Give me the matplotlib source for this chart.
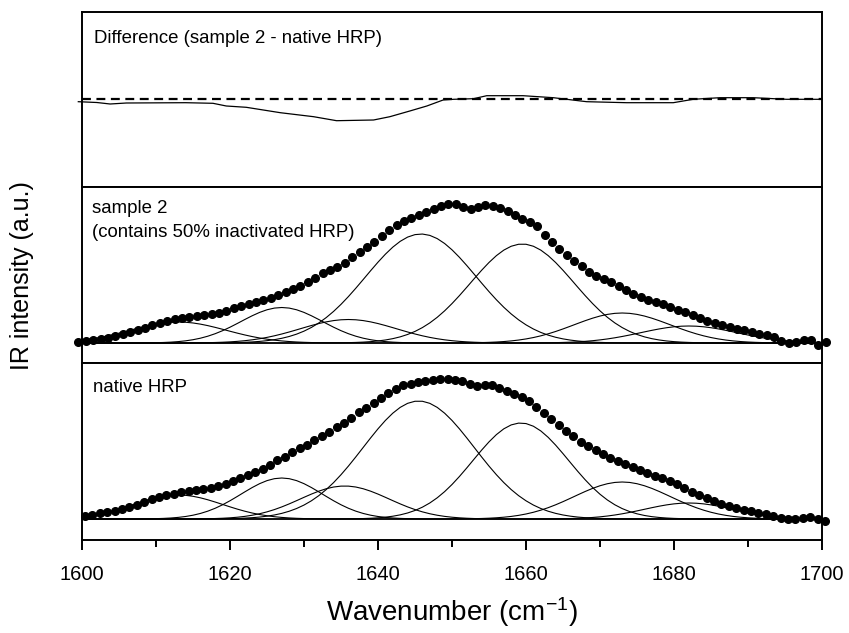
import numpy as np
import matplotlib.pyplot as plt
from matplotlib.ticker import MultipleLocator

plt.rcParams['font.family'] = ['Liberation Sans', 'DejaVu Sans']
plt.rcParams['mathtext.fontset'] = 'custom'
plt.rcParams['mathtext.rm'] = 'Liberation Sans'
plt.rcParams['mathtext.default'] = 'regular'

# measured spectra (a.u.), one point per wavenumber
wn_s2 = np.arange(1599.5, 1701.0, 1.0)
int_s2 = [1.5, 2.5, 3.5, 4.5, 5.5, 7, 9, 11, 13, 15.5,
          18, 20, 22, 24, 25, 26, 27, 28, 29, 30.5,
          32.5, 35, 37, 39, 41, 43, 45.5, 48, 51, 54,
          57.5, 61, 65, 70, 73, 76, 80, 86, 91, 96,
          101, 107, 113, 118, 122, 125, 128.5, 131.5, 134.5, 137.5,
          139.5, 139, 136.5, 134, 136, 138, 137.5, 135.5, 132, 128.5,
          124.5, 121, 117, 108, 101, 94, 88, 82.5, 77, 71.5,
          67.5, 64, 61, 57, 53, 49.5, 46, 43.5, 41.5, 39,
          36, 33.5, 31, 28, 25, 22.5, 20.5, 18.5, 16.5, 14.5,
          13, 11.5, 9.5, 8, 6, 2.5, 0.3, 1.5, 3, 3.5,
          -2, 1.3]

wn_nat = np.arange(1600.4, 1701.0, 1.0)
int_nat = [3.3, 4.5, 6, 7, 8.5, 10, 12, 14.5, 17, 20,
           22, 24, 25.5, 27, 28, 29, 30, 31, 33, 35,
           38, 41, 44, 47, 50, 54.5, 59, 62.5, 67, 71,
           74.5, 79, 83, 87.5, 92, 96.5, 101.5, 107, 111.5, 116,
           121, 126, 130.5, 134, 135.5, 137, 138.5, 139.5, 140.5, 140.5,
           139.5, 138.5, 135, 133.5, 134.5, 134, 131.5, 128.5, 125.5, 122.5,
           118, 112.5, 106, 100, 94, 88.5, 83, 77.5, 73, 69,
           65.5, 61.5, 58.5, 55.5, 52.5, 49.5, 46.5, 43.5, 41, 38,
           35, 31, 27.5, 24, 21, 18, 15.5, 13, 11.5, 9.5,
           8, 6.5, 5, 3.5, 1.5, 0, 0.5, 1.2, 1.6, 0.5,
           -1.7]

# fitted gaussian bands: centre (cm-1), height (a.u.), sigma (cm-1)
s2_center = [1613, 1627, 1636, 1645.8, 1659.5, 1673, 1682]
s2_height = [21, 35.5, 23.5, 109, 99, 30, 17]
s2_sigma = [6.5, 5.5, 6.5, 7.5, 7.0, 6.5, 6.5]

nat_center = [1613, 1627, 1635.5, 1645.5, 1659.3, 1673, 1682]
nat_height = [24, 41, 33, 118, 96, 37, 16]
nat_sigma = [6.0, 5.5, 6.0, 7.5, 6.5, 6.5, 6.0]

# difference spectrum (sample 2 - native)
diff_wn = [1599.5, 1602, 1603.8, 1606, 1614, 1617.7, 1619.5, 1622.2, 1626.8, 1631.3,
           1634.4, 1639.4, 1641.6, 1644.3, 1646.6, 1648.8, 1650.2, 1652.9, 1654.7, 1659.6,
           1663.7, 1668.2, 1673.6, 1679.9, 1682.6, 1686.2, 1690.7, 1695.2, 1700]
diff_int = [-2.7, -3.5, -5, -4, -3.7, -4.3, -7, -8.3, -13.7, -17.7,
            -21.7, -21, -17.7, -12, -7, -1, -0.3, 0.3, 3.3, 3.3,
            1.3, -2.7, -3.7, -3.7, -0.3, 1.3, 1.3, -0.3, -0.3]


def bands(ax, centers, heights, sigmas):
    xx = np.arange(1600, 1700.5, 1.0)
    for c, h, s in zip(centers, heights, sigmas):
        ax.plot(xx, h * np.exp(-(xx - c) ** 2 / (2 * s ** 2)), color='black', lw=0.8)


fig = plt.figure(figsize=(8.49, 6.33), dpi=100)
left, width = 82 / 849, 740 / 849
ax_top = fig.add_axes([left, 1 - 187 / 633, width, 175 / 633])
ax_mid = fig.add_axes([left, 1 - 363 / 633, width, 176 / 633])
ax_bot = fig.add_axes([left, 1 - 540 / 633, width, 177 / 633])

# difference panel
ax_top.axhline(0, color='black', lw=1.6, ls=(0, (4, 2.5)))
ax_top.plot(diff_wn, diff_int, color='black', lw=0.9, clip_on=False)
ax_top.set_ylim(-88, 87)
ax_top.text(0.0166, 0.8246, 'Difference (sample 2 - native HRP)', transform=ax_top.transAxes,
            fontsize=13.4, va='baseline')

# sample 2
bands(ax_mid, s2_center, s2_height, s2_sigma)
ax_mid.plot(wn_s2, int_s2, 'o', color='black', ms=5.5, clip_on=False, zorder=5)
ax_mid.set_ylim(-20, 156)
ax_mid.text(0.013, 0.852, 'sample 2', transform=ax_mid.transAxes, fontsize=13.4, va='baseline')
ax_mid.text(0.013, 0.7176, '(contains 50% inactivated HRP)', transform=ax_mid.transAxes,
            fontsize=13.4, va='baseline')

# native
bands(ax_bot, nat_center, nat_height, nat_sigma)
ax_bot.plot(wn_nat, int_nat, 'o', color='black', ms=5.5, clip_on=False, zorder=5)
ax_bot.set_ylim(-21, 156)
ax_bot.text(0.0153, 0.838, 'native HRP', transform=ax_bot.transAxes, fontsize=13.4, va='baseline')

for ax in (ax_top, ax_mid, ax_bot):
    ax.set_xlim(1600, 1700)
    ax.set_yticks([])
    for sp in ax.spines.values():
        sp.set_linewidth(1.4)
    ax.tick_params(axis='x', which='both', bottom=False, labelbottom=False)

ax_bot.xaxis.set_major_locator(MultipleLocator(20))
ax_bot.xaxis.set_minor_locator(MultipleLocator(10))
ax_bot.tick_params(axis='x', which='both', bottom=True, labelbottom=True, direction='out',
                   width=1.4, labelsize=14.5, pad=11)
ax_bot.tick_params(axis='x', which='major', length=7)
ax_bot.tick_params(axis='x', which='minor', length=5)
ax_bot.set_xlabel('Wavenumber (cm$^{-1}$)', fontsize=20, labelpad=8)

fig.text(22 / 849, 1 - 276 / 633, 'IR intensity (a.u.)', rotation=90, fontsize=18,
         ha='center', va='center')

fig.savefig('out.png', dpi=100)
